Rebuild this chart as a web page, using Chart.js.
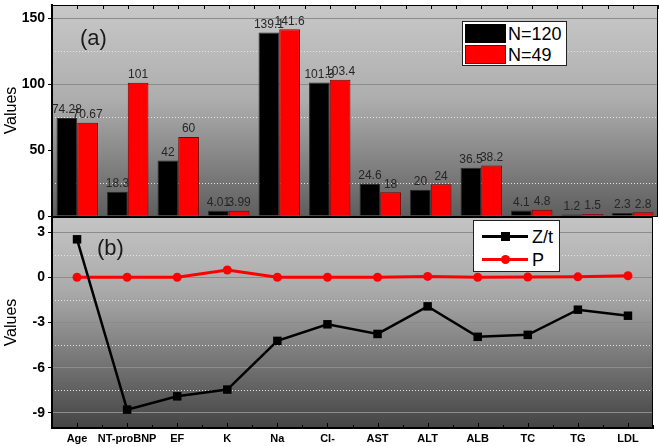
<!DOCTYPE html>
<html>
<head>
<meta charset="utf-8">
<script src="https://cdn.jsdelivr.net/npm/chart.js@4/dist/chart.umd.min.js"></script>
<style>
  body { margin: 0; background: #fff; }
  #wrap { position: relative; width: 659px; height: 446px; font-family: "Liberation Sans", Arial, sans-serif; }
  canvas { position: absolute; left: 0; top: 0; }
  .tag { position: absolute; font-size: 22px; line-height: 22px; color: #1a1a1a; }
  .legend { position: absolute; background: #fff; border: 1px solid #222; box-sizing: border-box; }
  .legend .txt { position: absolute; font-size: 18px; line-height: 18px; color: #000; }
  .legend .sw { position: absolute; box-sizing: border-box; }
  .legend .ln { position: absolute; height: 3px; }
  .legend .mk { position: absolute; }
</style>
</head>
<body>
<div id="wrap">
  <canvas id="lines" width="659" height="446"></canvas>
  <canvas id="bars" width="659" height="446"></canvas>

  <div class="tag" style="left:80px;top:27px;">(a)</div>
  <div class="tag" style="left:97px;top:237px;">(b)</div>

  <div class="legend" style="left:462px;top:21px;width:105px;height:45px;">
    <div class="sw" style="left:2px;top:2px;width:41px;height:19px;background:#000;"></div>
    <div class="txt" style="left:45px;top:3px;">N=120</div>
    <div class="sw" style="left:2px;top:23px;width:41px;height:19px;background:#ff0000;border:1px solid #7a0000;"></div>
    <div class="txt" style="left:45px;top:24px;">N=49</div>
  </div>

  <div class="legend" style="left:473px;top:220px;width:87px;height:52px;">
    <div class="ln" style="left:8px;top:14px;width:46px;background:#000;"></div>
    <div class="mk" style="left:27px;top:11px;width:9px;height:9px;background:#000;"></div>
    <div class="txt" style="left:58px;top:7px;">Z/t</div>
    <div class="ln" style="left:8px;top:37px;width:46px;background:#ff0000;"></div>
    <div class="mk" style="left:27px;top:34px;width:9px;height:9px;border-radius:50%;background:#ff0000;"></div>
    <div class="txt" style="left:58px;top:30px;">P</div>
  </div>
</div>

<script>
const categories = ["Age", "NT-proBNP", "EF", "K", "Na", "Cl-", "AST", "ALT", "ALB", "TC", "TG", "LDL"];
const n120 = [74.28, 18.3, 42, 4.01, 139.1, 101.3, 24.6, 20, 36.5, 4.1, 1.2, 2.3];
const n49 = [70.67, 101, 60, 3.99, 141.6, 103.4, 18, 24, 38.2, 4.8, 1.5, 2.8];
const zt = [2.52, -8.78, -7.9, -7.45, -4.22, -3.12, -3.76, -1.93, -3.95, -3.82, -2.15, -2.55];
const pVals = [0, 0, 0, 0.48, 0, 0, 0, 0.06, 0, 0.02, 0.03, 0.1];

const barTicks = [0, 50, 100, 150];
const barMinor = [25, 75, 125];
const lineTicks = [-9, -6, -3, 0, 3];
const lineMinor = [-7.5, -4.5, -1.5, 1.5];

const FONT = "'Liberation Sans', Arial, sans-serif";
Chart.defaults.font.family = FONT;
Chart.defaults.animation = false;

// gradient behind the plot, dotted minor grid, frame and x tick marks
const panel = (stops, minor, tickSide) => ({
	id: "panel",
	beforeDraw(chart) {
		const { ctx, chartArea: a } = chart;
		const g = ctx.createLinearGradient(0, a.top, 0, a.bottom);
		stops.forEach(([o, c]) => g.addColorStop(o, c));
		ctx.save();
		ctx.fillStyle = g;
		ctx.fillRect(a.left, a.top, a.right - a.left, a.bottom - a.top);
		ctx.restore();
	},
	beforeDatasetsDraw(chart) {
		const { ctx, chartArea: a, scales } = chart;
		ctx.save();
		ctx.strokeStyle = "#e4e4e4";
		ctx.lineWidth = 1;
		ctx.setLineDash([1, 2]);
		minor.forEach((v) => {
			const y = Math.round(scales.y.getPixelForValue(v)) + 0.5;
			ctx.beginPath();
			ctx.moveTo(a.left, y);
			ctx.lineTo(a.right, y);
			ctx.stroke();
		});
		ctx.restore();
	},
	afterDatasetsDraw(chart) {
		const { ctx, chartArea: a, scales } = chart;
		ctx.save();
		ctx.strokeStyle = "#000";
		ctx.lineWidth = 1;
		ctx.strokeRect(a.left, a.top + 0.5, a.right - a.left - 0.5, a.bottom - a.top);
		ctx.lineWidth = 2;
		ctx.beginPath();
		ctx.moveTo(a.left, a.top);
		ctx.lineTo(a.left, a.bottom);
		ctx.stroke();
		ctx.lineWidth = 1;
		for (let i = -0.5; i < categories.length; i += 0.5) {
			const x = Math.round(scales.x.getPixelForValue(i)) + 0.5;
			const len = Number.isInteger(i) ? 5 : 3;
			ctx.beginPath();
			if (tickSide === "top") {
				ctx.moveTo(x, a.top);
				ctx.lineTo(x, a.top + 4);
			} else {
				ctx.moveTo(x, a.bottom);
				ctx.lineTo(x, a.bottom - len);
			}
			ctx.stroke();
		}
		ctx.restore();
	},
});

const barLabels = {
	id: "barLabels",
	afterDatasetsDraw(chart) {
		const { ctx } = chart;
		ctx.save();
		ctx.font = "12px " + FONT;
		ctx.fillStyle = "#262626";
		ctx.textAlign = "center";
		ctx.textBaseline = "bottom";
		chart.data.datasets.forEach((ds, d) => {
			chart.getDatasetMeta(d).data.forEach((bar, i) => {
				ctx.fillText(String(ds.data[i]), bar.x, bar.y - 2);
			});
		});
		ctx.restore();
	},
};

const yAxis = (min, max, ticks) => ({
	min: min,
	max: max,
	afterBuildTicks: (s) => {
		s.ticks = ticks.map((v) => ({ value: v }));
	},
	afterFit: (s) => {
		s.width = 52;
		s.paddingTop = 0;
		s.paddingBottom = 0;
	},
	ticks: { color: "#000", font: { size: 14, weight: "bold" }, padding: 3 },
	grid: { color: "#8c8c8c", lineWidth: 1, tickColor: "#000", tickLength: 4 },
	border: { color: "#000", width: 2 },
	title: { display: true, text: "Values", color: "#000", font: { size: 16 }, padding: { top: 2, bottom: 0 } },
});

new Chart(document.getElementById("bars"), {
	type: "bar",
	data: {
		labels: categories,
		datasets: [
			{ label: "N=120", data: n120, backgroundColor: "#000", borderColor: "#2a2a2a", borderWidth: 1 },
			{ label: "N=49", data: n49, backgroundColor: "#ff0000", borderColor: "#7a0000", borderWidth: 1 },
		],
	},
	options: {
		responsive: false,
		categoryPercentage: 0.82,
		barPercentage: 1,
		layout: { padding: { top: 5, right: 1, bottom: 230, left: 0 } },
		plugins: { legend: { display: false }, tooltip: { enabled: false } },
		scales: {
			x: { display: false },
			y: yAxis(0, 160, barTicks),
		},
	},
	plugins: [panel([[0, "#c8c8c8"], [0.45, "#adadad"], [1, "#5e5e5e"]], barMinor, "top"), barLabels],
});

new Chart(document.getElementById("lines"), {
	type: "line",
	data: {
		labels: categories,
		datasets: [
			{
				label: "Z/t", data: zt, borderColor: "#000", backgroundColor: "#000", borderWidth: 2.5,
				pointStyle: "rect", pointRadius: 6, pointBorderWidth: 0,
			},
			{
				label: "P", data: pVals, borderColor: "#ff0000", backgroundColor: "#ff0000", borderWidth: 3,
				pointStyle: "circle", pointRadius: 4.5, pointBorderWidth: 0,
			},
		],
	},
	options: {
		responsive: false,
		layout: { padding: { top: 217, right: 1, bottom: 0, left: 0 } },
		plugins: { legend: { display: false }, tooltip: { enabled: false } },
		scales: {
			x: {
				offset: true,
				afterFit: (s) => {
					s.height = 18;
				},
				grid: { drawOnChartArea: false, drawTicks: false },
				border: { color: "#000", width: 2 },
				ticks: { color: "#000", font: { size: 11, weight: "bold" }, padding: 4, autoSkip: false, maxRotation: 0 },
			},
			y: yAxis(-10, 4, lineTicks),
		},
	},
	plugins: [panel([[0, "#c4c4c4"], [0.35, "#aaaaaa"], [1, "#444444"]], lineMinor, "bottom")],
});
</script>
</body>
</html>
